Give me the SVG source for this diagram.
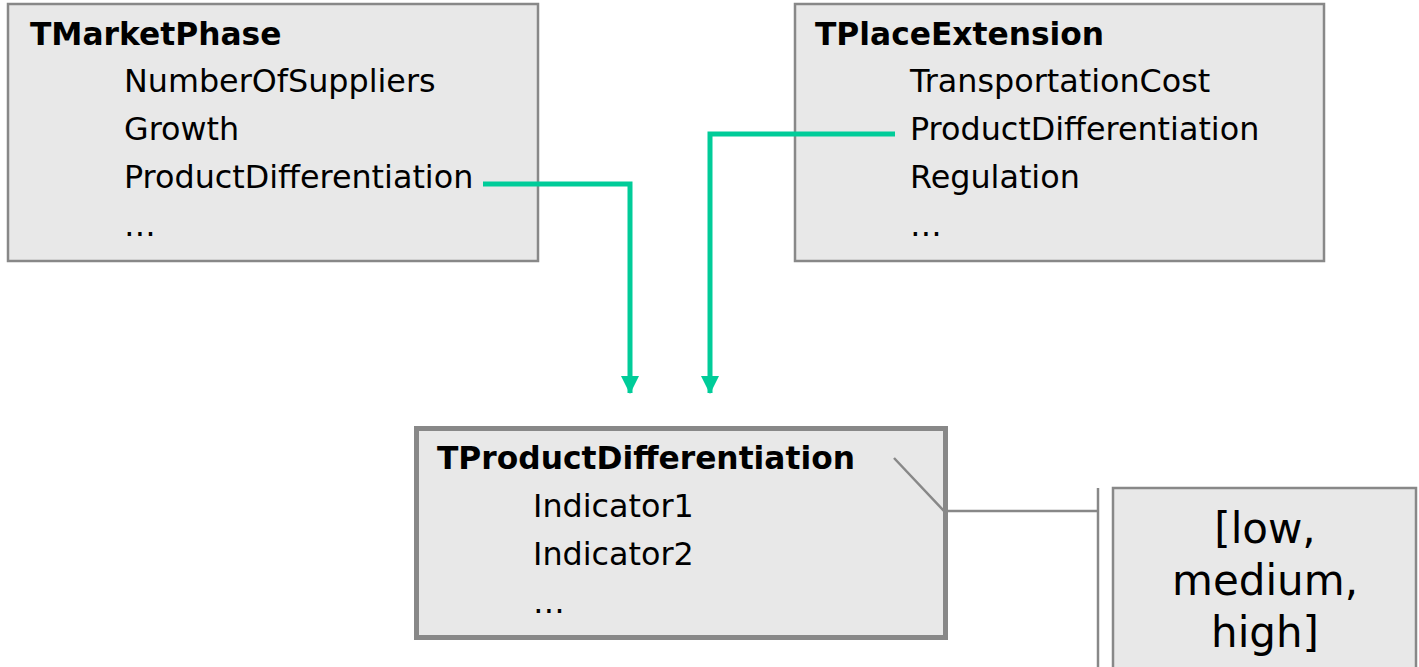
<svg xmlns="http://www.w3.org/2000/svg" width="1419" height="667" viewBox="0 0 1419 667">
<style>
.box{fill:#e8e8e8;stroke:#888888;stroke-width:2.5}
.thick{stroke-width:5}
.t{font-family:"DejaVu Sans",Verdana,sans-serif;font-size:31.8px;fill:#000}
.b{font-weight:bold;font-size:31.3px}
.big{font-size:42px}
.g{fill:none;stroke:#00cc99;stroke-width:5}
.gr{fill:none;stroke:#888888;stroke-width:2.5}
</style>
<defs>
<marker id="ah" viewBox="0 0 18 18" refX="17" refY="9" markerWidth="18" markerHeight="18" markerUnits="userSpaceOnUse" orient="auto">
<path d="M0,0 L18,9 L0,18 Z" fill="#00cc99"/>
</marker>
</defs>
<rect width="1419" height="667" fill="#ffffff"/>
<g id="TMarketPhase">
<rect class="box" x="8" y="4" width="530" height="257"/>
<text class="t b" x="30" y="45">TMarketPhase</text>
<text class="t" x="124" y="92">NumberOfSuppliers</text>
<text class="t" x="124" y="140">Growth</text>
<text class="t" x="124" y="188">ProductDifferentiation</text>
<text class="t" x="124" y="236">…</text>
</g>
<g id="TPlaceExtension">
<rect class="box" x="795" y="4" width="529" height="257"/>
<text class="t b" x="815" y="45">TPlaceExtension</text>
<text class="t" x="910" y="92">TransportationCost</text>
<text class="t" x="910" y="140">ProductDifferentiation</text>
<text class="t" x="910" y="188">Regulation</text>
<text class="t" x="910" y="236">…</text>
</g>
<g id="TProductDifferentiation">
<rect class="box thick" x="416.5" y="428.5" width="529" height="209"/>
<text class="t b" x="437" y="469">TProductDifferentiation</text>
<text class="t" x="533" y="517">Indicator1</text>
<text class="t" x="533" y="565">Indicator2</text>
<text class="t" x="533" y="613">…</text>
</g>
<g id="Values">
<rect class="box" x="1113" y="488" width="303" height="190"/>
<text class="t big" x="1265" y="543" text-anchor="middle">[low,</text>
<text class="t big" x="1265" y="595" text-anchor="middle">medium,</text>
<text class="t big" x="1265" y="647" text-anchor="middle">high]</text>
</g>
<g id="connectors">
<path class="g" d="M483,184 H630 V393" marker-end="url(#ah)"/>
<path class="g" d="M895,134 H710 V393" marker-end="url(#ah)"/>
<path class="gr" d="M894,458 L944,511 H1098"/>
<path class="gr" d="M1098,488 V667"/>
</g>
</svg>
